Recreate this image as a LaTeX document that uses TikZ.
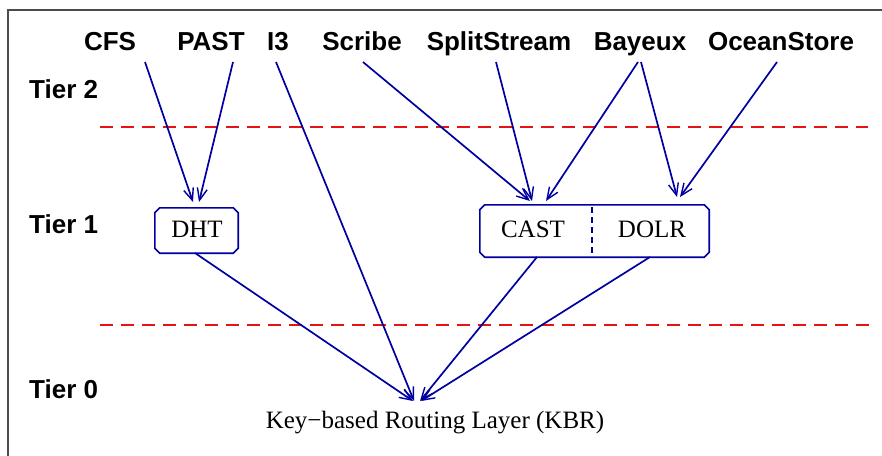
\documentclass[tikz,border=0pt]{standalone}
\usepackage{fontspec}
\setmainfont{Liberation Serif}
\setsansfont{Liberation Sans}
\usetikzlibrary{arrows.meta}
\definecolor{navy}{RGB}{0,0,160}
\definecolor{dred}{RGB}{228,20,20}
\begin{document}
\begin{tikzpicture}[x=1pt,y=-1pt,
  lab/.style={font=\sffamily\bfseries\fontsize{26}{30}\selectfont, inner sep=0, anchor=base},
  tier/.style={font=\sffamily\bfseries\fontsize{26}{30}\selectfont, inner sep=0, anchor=base west},
  ser/.style={font=\fontsize{25}{28}\selectfont, inner sep=0, anchor=base},
  arr/.style={navy, line width=1.7pt, -{Straight Barb[length=12pt,width=10pt,line width=1.4pt]}},
  tierline/.style={dred, line width=1.6pt, dash pattern=on 13pt off 8pt},
  boxline/.style={draw=navy, line width=1.6pt},
  boxarea/.style={rectangle, inner sep=0}]
\useasboundingbox (0,0) rectangle (882,455);
\fill[white] (0,0) rectangle (882,455);
% frame
\draw[line width=2pt, black!70] (8,456) -- (8,10) -- (883,10);
% labels
\node[lab] (cfs) at (110,50) {CFS};
\node[lab] (past) at (211,50) {PAST};
\node[lab] (i3) at (278,50) {I3};
\node[lab] (scribe) at (362,50) {Scribe};
\node[lab] (split) at (499,50) {SplitStream};
\node[lab] (bayeux) at (640,50) {Bayeux};
\node[lab] (ocean) at (781,50) {OceanStore};
% tiers
\node[tier] (t2) at (29,98) {Tier 2};
\node[tier] (t1) at (29,233) {Tier 1};
\node[tier] (t0) at (29,398) {Tier 0};
% tier separators
\coordinate (s1a) at (100,127); \coordinate (s1b) at (868,127);
\coordinate (s2a) at (100,325); \coordinate (s2b) at (870,325);
\draw[tierline] (s1a) -- (s1b);
\draw[tierline] (s2a) -- (s2b);
% boxes
\node[boxarea, minimum width=83pt, minimum height=45pt] (dhtbox) at (196.5,230.5) {};
\draw[boxline] ([xshift=5pt]dhtbox.north west) -- ([xshift=-5pt]dhtbox.north east)
  -- ([yshift=-5pt]dhtbox.north east) -- ([yshift=5pt]dhtbox.south east)
  -- ([xshift=-5pt]dhtbox.south east) -- ([xshift=5pt]dhtbox.south west)
  -- ([yshift=5pt]dhtbox.south west) -- ([yshift=-5pt]dhtbox.north west) -- cycle;
\node[ser] (dht) at (197,237) {DHT};
\node[boxarea, minimum width=229pt, minimum height=52pt] (cdbox) at (594.5,231) {};
\draw[boxline] ([xshift=5pt]cdbox.north west) -- ([xshift=-5pt]cdbox.north east)
  -- ([yshift=-5pt]cdbox.north east) -- ([yshift=5pt]cdbox.south east)
  -- ([xshift=-5pt]cdbox.south east) -- ([xshift=5pt]cdbox.south west)
  -- ([yshift=5pt]cdbox.south west) -- ([yshift=-5pt]cdbox.north west) -- cycle;
\node[ser] (cast) at (533,237) {CAST};
\node[ser] (dolr) at (652,237) {DOLR};
\coordinate (div1) at (592,207); \coordinate (div2) at (592,253);
\draw[navy, line width=1.5pt, dash pattern=on 6pt off 4pt] (div1) -- (div2);
% KBR
\node[ser] (kbr) at (435,428) {Key−based Routing Layer (KBR)};
% arrow tails
\coordinate (cfsT) at (145,62);
\coordinate (pastT) at (233,62);
\coordinate (i3T) at (276,62);
\coordinate (scribeT) at (363,62);
\coordinate (splitT) at (496,62);
\coordinate (bayT1) at (638,62);
\coordinate (bayT2) at (641,62);
\coordinate (oceanT) at (777,62);
\coordinate (dhtT) at (195,253);
\coordinate (castT) at (537,257);
\coordinate (dolrT) at (650,257);
% arrow heads
\coordinate (dhtH1) at (193,202);
\coordinate (dhtH2) at (199,202);
\coordinate (castH1) at (530,201);
\coordinate (castH2) at (532,201);
\coordinate (castH3) at (546,201);
\coordinate (dolrH1) at (677,197);
\coordinate (dolrH2) at (680,197);
\coordinate (kbrH1) at (413,401);
\coordinate (kbrH2) at (414,401);
\coordinate (kbrH3) at (420,401);
\coordinate (kbrH4) at (421,401);
% arrows
\draw[arr] (cfsT) -- (dhtH1);
\draw[arr] (pastT) -- (dhtH2);
\draw[arr] (i3T) -- (kbrH2);
\draw[arr] (scribeT) -- (castH1);
\draw[arr] (splitT) -- (castH2);
\draw[arr] (bayT1) -- (castH3);
\draw[arr] (bayT2) -- (dolrH1);
\draw[arr] (oceanT) -- (dolrH2);
\draw[arr] (dhtT) -- (kbrH1);
\draw[arr] (castT) -- (kbrH3);
\draw[arr] (dolrT) -- (kbrH4);
\end{tikzpicture}
\end{document}
